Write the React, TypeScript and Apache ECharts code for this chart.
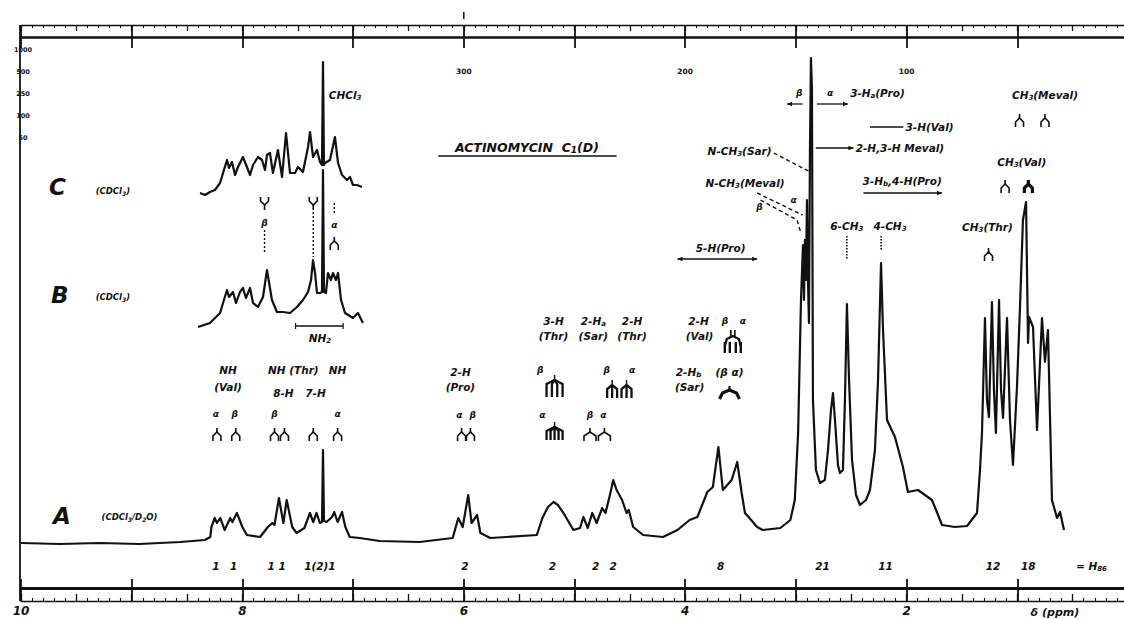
import React, { useEffect, useRef } from 'react';
import * as echarts from 'echarts';

// ---------------- data (ppm, relative intensity) ----------------
const spectrumA: [number, number][] = [
  [10.0, 0], [9.65, -1], [9.29, 0], [8.93, -1], [8.56, 1], [8.34, 3], [8.29, 6], [8.28, 16], [8.25, 25], [8.23, 20],
  [8.2, 25], [8.16, 13], [8.11, 25], [8.09, 21], [8.05, 30], [8.0, 16], [7.96, 8], [7.84, 6], [7.77, 16], [7.73, 20],
  [7.71, 18], [7.67, 45], [7.63, 20], [7.6, 43], [7.55, 16], [7.51, 10], [7.44, 15], [7.39, 30], [7.36, 21], [7.33, 30],
  [7.3, 20], [7.281, 21], [7.272, 93], [7.263, 22], [7.24, 21], [7.19, 26], [7.17, 31], [7.14, 21], [7.1, 31], [7.07, 16],
  [7.03, 6], [6.94, 5], [6.76, 2], [6.4, 1], [6.1, 5], [6.05, 25], [6.01, 16], [5.96, 48], [5.93, 20], [5.88, 28],
  [5.85, 10], [5.76, 5], [5.34, 8], [5.29, 25], [5.24, 36], [5.19, 41], [5.15, 38], [5.1, 30], [5.01, 13], [4.95, 15],
  [4.92, 26], [4.88, 15], [4.84, 30], [4.8, 20], [4.75, 35], [4.72, 30], [4.68, 48], [4.65, 63], [4.62, 53], [4.57, 43],
  [4.53, 30], [4.51, 33], [4.47, 16], [4.38, 8], [4.2, 6], [4.07, 13], [3.96, 23], [3.89, 26], [3.8, 51], [3.75, 56],
  [3.7, 96], [3.66, 53], [3.58, 63], [3.53, 81], [3.49, 50], [3.46, 30], [3.42, 25], [3.35, 16], [3.3, 13], [3.14, 15],
  [3.05, 23], [3.01, 43], [2.98, 110], [2.954, 243], [2.936, 298], [2.927, 243], [2.918, 303], [2.909, 263], [2.9, 343], [2.891, 263],
  [2.882, 220], [2.873, 393], [2.864, 485], [2.855, 453], [2.846, 143], [2.819, 73], [2.783, 60], [2.738, 63], [2.71, 93], [2.683, 133],
  [2.665, 150], [2.647, 123], [2.62, 78], [2.602, 70], [2.575, 73], [2.557, 143], [2.539, 239], [2.52, 163], [2.493, 83], [2.457, 48],
  [2.421, 38], [2.367, 43], [2.331, 53], [2.286, 93], [2.258, 163], [2.231, 280], [2.213, 213], [2.177, 123], [2.105, 106], [2.033, 76],
  [1.988, 51], [1.897, 53], [1.834, 48], [1.771, 43], [1.716, 28], [1.68, 18], [1.563, 16], [1.454, 17], [1.364, 30], [1.337, 73],
  [1.319, 110], [1.292, 225], [1.274, 143], [1.256, 126], [1.229, 241], [1.211, 153], [1.193, 110], [1.165, 243], [1.147, 153], [1.129, 125],
  [1.093, 225], [1.066, 123], [1.039, 78], [1.003, 156], [0.976, 235], [0.949, 323], [0.921, 341], [0.903, 200], [0.894, 226], [0.858, 216],
  [0.822, 113], [0.777, 225], [0.75, 181], [0.723, 213], [0.687, 43], [0.641, 25], [0.614, 31], [0.578, 13],
];

const spectrumB: [number, number][] = [
  [8.401, 3], [8.293, 7], [8.202, 17], [8.175, 27], [8.139, 40], [8.121, 33], [8.085, 38], [8.058, 27], [8.022, 38], [7.995, 42],
  [7.968, 32], [7.931, 42], [7.904, 27], [7.859, 23], [7.814, 33], [7.778, 60], [7.733, 30], [7.688, 18], [7.633, 18], [7.57, 17],
  [7.507, 23], [7.453, 30], [7.407, 38], [7.38, 50], [7.362, 70], [7.344, 57], [7.326, 37], [7.299, 37], [7.281, 38], [7.272, 160],
  [7.263, 38], [7.245, 37], [7.227, 57], [7.2, 50], [7.182, 57], [7.155, 50], [7.136, 57], [7.109, 30], [7.073, 17], [7.001, 12],
  [6.956, 17], [6.911, 7],
];

const spectrumC: [number, number][] = [
  [8.383, 2], [8.338, 0], [8.293, 3], [8.248, 5], [8.202, 12], [8.175, 22], [8.139, 35], [8.121, 27], [8.094, 33], [8.067, 20],
  [8.04, 28], [7.995, 38], [7.959, 28], [7.931, 20], [7.904, 30], [7.859, 38], [7.823, 35], [7.796, 25], [7.778, 40], [7.751, 42],
  [7.724, 22], [7.679, 45], [7.642, 18], [7.606, 62], [7.57, 22], [7.525, 22], [7.498, 28], [7.453, 23], [7.407, 48], [7.389, 63],
  [7.362, 38], [7.326, 45], [7.299, 33], [7.281, 30], [7.272, 133], [7.263, 30], [7.254, 32], [7.209, 35], [7.164, 58], [7.136, 32],
  [7.1, 20], [7.055, 15], [7.028, 18], [7.001, 10], [6.965, 10], [6.92, 8],
];

const ppmTickLabels = [10, 8, 6, 4, 2];
const hzTickPpm = [6, 4, 2];
const hzTickLabels = ['300', '200', '100'];
const intensityScaleLabels = ['1000', '500', '250', '100', '50'];
const integralLabels = ['1', '1', '1', '1', '1(2)1', '2', '2', '2', '2', '8', '21', '11', '12', '18', '= H_{86}'];
const integralPpm = [8.24, 8.08, 7.74, 7.64, 7.3, 5.99, 5.2, 4.81, 4.65, 3.68, 2.76, 2.19, 1.22, 0.9, 0.33];

// ---------------- layout / annotations ----------------
const INK = '#111';
const FONT = '"DejaVu Sans", "Liberation Sans", Arial, sans-serif';

type Align = 'left' | 'center' | 'right';
// [text, ppm, y, size, align]
const annotations: [string, number, number, number?, Align?][] = [
  ['C', 9.67, 187, 23], ['(CDCl_{3})', 9.17, 191, 8.5],
  ['B', 9.65, 295, 23], ['(CDCl_{3})', 9.17, 297, 8.5],
  ['A', 9.63, 516, 23], ['(CDCl_{3}/D_{2}O)', 9.02, 517, 8.5],
  ['CHCl_{3}', 7.22, 95, 10.5, 'left'],
  ['β', 7.8, 223, 9], ['α', 7.17, 225, 9],
  ['NH_{2}', 7.3, 338, 10.5],
  ['ACTINOMYCIN  C_{1}(D)', 5.43, 147, 12.5],
  ['NH', 8.13, 370], ['(Val)', 8.13, 387], ['NH (Thr)', 7.54, 370], ['NH', 7.14, 370],
  ['8-H', 7.63, 393], ['7-H', 7.34, 393],
  ['α', 8.24, 414, 9], ['β', 8.07, 414, 9], ['β', 7.71, 414, 9], ['α', 7.14, 414, 9],
  ['2-H', 6.03, 372], ['(Pro)', 6.03, 387],
  ['α', 6.04, 415, 9], ['β', 5.92, 415, 9],
  ['3-H', 5.19, 321], ['(Thr)', 5.19, 336], ['2-H_{a}', 4.83, 321], ['(Sar)', 4.83, 336],
  ['2-H', 4.48, 321], ['(Thr)', 4.48, 336],
  ['β', 5.31, 370, 9], ['α', 5.29, 415, 9],
  ['β', 4.71, 370, 9], ['α', 4.48, 370, 9], ['β', 4.86, 415, 9], ['α', 4.74, 415, 9],
  ['2-H', 3.88, 321], ['(Val)', 3.87, 336], ['β', 3.64, 321, 9], ['α', 3.48, 321, 9],
  ['2-H_{b}', 3.97, 372], ['(Sar)', 3.96, 387], ['(β α)', 3.6, 372],
  ['β', 2.97, 93, 9], ['α', 2.69, 93, 9], ['3-H_{a}(Pro)', 2.51, 93, 10.5, 'left'],
  ['3-H(Val)', 2.01, 127, 10.5, 'left'],
  ['2-H,3-H Meval)', 2.46, 148, 10.5, 'left'],
  ['N-CH_{3}(Sar)', 3.22, 151, 10.5, 'right'],
  ['3-H_{b},4-H(Pro)', 2.04, 181],
  ['N-CH_{3}(Meval)', 3.46, 183],
  ['α', 3.02, 200, 9], ['β', 3.33, 207, 9],
  ['5-H(Pro)', 3.68, 248],
  ['6-CH_{3}', 2.54, 226], ['4-CH_{3}', 2.15, 226],
  ['CH_{3}(Thr)', 1.27, 227],
  ['CH_{3}(Meval)', 0.75, 95],
  ['CH_{3}(Val)', 0.96, 162],
  ['δ (ppm)', 0.66, 612, 11],
];

function toRich(s: string) {
  const parts: string[] = [];
  const re = /_\{([^}]*)\}/g;
  let last = 0;
  let m: RegExpExecArray | null;
  while ((m = re.exec(s))) {
    if (m.index > last) parts.push(`{n|${s.slice(last, m.index)}}`);
    parts.push(`{s|${m[1]}}`);
    last = re.lastIndex;
  }
  if (last < s.length) parts.push(`{n|${s.slice(last)}}`);
  return parts.join('');
}

function txt(x: number, y: number, s: string, size = 10.5, align: Align = 'center', italic = true) {
  const base = { fontFamily: FONT, fontWeight: 'bold', fontStyle: italic ? 'italic' : 'normal', fill: INK };
  return {
    type: 'text', x, y, silent: true, z: 10,
    style: {
      text: toRich(s), align, textAlign: align, verticalAlign: 'middle', textVerticalAlign: 'middle',
      ...base, fontSize: size,
      rich: {
        n: { ...base, fontSize: size, lineHeight: size + 2 },
        s: { ...base, fontSize: Math.max(6, Math.round(size * 0.7)), lineHeight: Math.round(size * 0.45), verticalAlign: 'bottom' },
      },
    },
  };
}
function ln(x1: number, y1: number, x2: number, y2: number, w = 1.3, dash?: number[]) {
  return { type: 'line', silent: true, z: 10, shape: { x1, y1, x2, y2 }, style: { stroke: INK, lineWidth: w, lineDash: dash } };
}
function pl(points: number[][], w = 1.5, dash?: number[]) {
  return { type: 'polyline', silent: true, z: 10, shape: { points }, style: { stroke: INK, lineWidth: w, fill: null, lineDash: dash } };
}
function pg(points: number[][]) {
  return { type: 'polygon', silent: true, z: 10, shape: { points }, style: { fill: INK } };
}
function doublet(x: number, y: number, hw = 4, w = 1.6) {
  return [ln(x, y, x, y + 4, w), pl([[x - hw, y + 13], [x - hw, y + 8], [x, y + 4], [x + hw, y + 8], [x + hw, y + 13]], w)];
}
function fork(x: number, y: number) {
  return [pl([[x - 4, y], [x - 4, y + 4], [x, y + 8], [x + 4, y + 4], [x + 4, y]], 1.6), ln(x, y + 8, x, y + 13, 1.6)];
}
function tree(x: number, y: number, hw = 8, legs = 4, h = 18) {
  const out: any[] = [ln(x, y, x, y + 5, 1.5)];
  for (let i = 0; i < legs; i++) {
    const lx = x - hw + (2 * hw * i) / (legs - 1);
    out.push(pl([[x, y + 5], [lx, y + 9], [lx, y + h]], 2.3));
  }
  return out;
}
function arrow(x1: number, x2: number, y: number, heads: 'start' | 'end' | 'both') {
  const out: any[] = [ln(x1, y, x2, y, 1.3)];
  const head = (xt: number, dir: number) => pg([[xt, y], [xt - dir * 5, y - 2.2], [xt - dir * 5, y + 2.2]]);
  const d = Math.sign(x2 - x1);
  if (heads === 'end' || heads === 'both') out.push(head(x2, d));
  if (heads === 'start' || heads === 'both') out.push(head(x1, -d));
  return out;
}

export default function App() {
  const ref = useRef<HTMLDivElement>(null);
  useEffect(() => {
    const chart = echarts.init(ref.current!, null, { renderer: 'svg' });
    const common = { type: 'value', gridIndex: 0, min: 0, max: 10, inverse: true, splitLine: { show: false } };
    const labelFont = { color: INK, fontFamily: FONT, fontWeight: 'bold', fontStyle: 'italic' };
    const traceStyle = { color: INK, width: 2.2, join: 'round' };
    chart.setOption({
      animation: false,
      backgroundColor: '#fff',
      grid: { left: 21, right: -4, top: 40, bottom: 76, containLabel: false, outerBoundsMode: 'none' },
      xAxis: [
        {
          ...common, interval: 1, position: 'bottom', offset: 58,
          axisLine: { onZero: false, lineStyle: { color: INK, width: 1.3 } },
          axisTick: { inside: true, length: 22, lineStyle: { color: INK, width: 1.8 } },
          minorTick: { show: true, splitNumber: 10, length: 3, lineStyle: { color: INK, width: 1.1 } },
          axisLabel: { ...labelFont, fontSize: 12, margin: 4, formatter: (v: number) => (ppmTickLabels.includes(v) ? String(v) : '') },
        },
        { ...common, interval: 1, position: 'bottom', offset: 45, axisLine: { onZero: false, lineStyle: { color: INK, width: 2.8 } }, axisTick: { show: false }, axisLabel: { show: false } },
        { ...common, interval: 0.5, position: 'bottom', offset: 58, axisLine: { show: false, onZero: false }, axisTick: { inside: true, length: 7, lineStyle: { color: INK, width: 1.3 } }, axisLabel: { show: false } },
        {
          ...common, interval: 1, position: 'top', offset: 15,
          axisLine: { onZero: false, lineStyle: { color: INK, width: 1.3 } },
          axisTick: { inside: true, length: 23, lineStyle: { color: INK, width: 1.8 } },
          minorTick: { show: true, splitNumber: 10, length: 3, lineStyle: { color: INK, width: 1.1 } },
          axisLabel: { show: false },
        },
        { ...common, interval: 0.5, position: 'top', offset: 15, axisLine: { show: false, onZero: false }, axisTick: { inside: true, length: 6, lineStyle: { color: INK, width: 1.3 } }, axisLabel: { show: false } },
        { ...common, interval: 1, position: 'top', offset: 3, axisLine: { onZero: false, lineStyle: { color: INK, width: 2.6 } }, axisTick: { show: false }, axisLabel: { show: false } },
        {
          ...common, interval: 1, position: 'top', offset: -38, axisLine: { show: false, onZero: false }, axisTick: { show: false },
          axisLabel: { color: INK, fontFamily: FONT, fontWeight: 'bold', fontSize: 7.5, margin: 3, formatter: (v: number) => { const i = hzTickPpm.indexOf(v); return i >= 0 ? hzTickLabels[i] : ''; } },
        },
      ],
      yAxis: [
        { type: 'value', gridIndex: 0, min: 0, max: 503, show: false },
        { type: 'value', gridIndex: 0, min: -213, max: 290, show: false },
        { type: 'value', gridIndex: 0, min: -348, max: 155, show: false },
      ],
      series: [
        { type: 'line', name: 'A', xAxisIndex: 0, yAxisIndex: 0, data: spectrumA, symbol: 'none', clip: false, lineStyle: traceStyle },
        { type: 'line', name: 'B', xAxisIndex: 0, yAxisIndex: 1, data: spectrumB, symbol: 'none', clip: false, lineStyle: traceStyle },
        { type: 'line', name: 'C', xAxisIndex: 0, yAxisIndex: 2, data: spectrumC, symbol: 'none', clip: false, lineStyle: traceStyle },
      ],
    });

    const X = (p: number) => chart.convertToPixel({ xAxisIndex: 0 }, p) as number;
    const els: any[] = [];
    els.push(ln(X(10) - 1, 25, X(10) - 1, 601, 1.8));
    els.push(ln(X(6), 12, X(6), 19, 1.5));
    intensityScaleLabels.forEach((t, i) => els.push(txt(X(10) + 2, 50 + i * 22, t, 6.5, 'center', false)));
    annotations.forEach(([t, p, y, size, align]) => els.push(txt(X(p), y, t, size ?? 10.5, align ?? 'center')));
    integralLabels.forEach((t, i) => els.push(txt(X(integralPpm[i]), 566, t, 10.5)));
    els.push(ln(X(6.23), 156, X(4.62), 156, 1.5));
    // B inset marks
    els.push(...fork(X(7.8), 197), ln(X(7.8), 230, X(7.8), 252, 1.4, [2, 2]));
    els.push(...fork(X(7.36), 197), ln(X(7.36), 212, X(7.36), 257, 1.4, [2, 2]));
    els.push(ln(X(7.17), 203, X(7.17), 215, 1.4, [2, 2]), ...doublet(X(7.17), 237));
    els.push(ln(X(7.52), 326, X(7.09), 326, 1.4), ln(X(7.52), 323, X(7.52), 329, 1.2), ln(X(7.09), 323, X(7.09), 329, 1.2));
    // NH row of doublets
    [8.23, 8.06, 7.71, 7.62, 7.36, 7.14].forEach((p) => els.push(...doublet(X(p), 428)));
    [6.02, 5.94].forEach((p) => els.push(...doublet(X(p), 428)));
    // multiplets
    els.push(...tree(X(5.18), 422, 8, 5, 18));
    els.push(...tree(X(5.18), 375, 8, 4, 22));
    els.push(...doublet(X(4.86), 428, 6), ...doublet(X(4.73), 428, 6));
    els.push(...tree(X(4.66), 380, 5, 3, 18), ...tree(X(4.53), 380, 5, 3, 18));
    {
      const x = X(3.6);
      els.push(ln(x, 386, x, 391, 2.2), pl([[x - 10, 399], [x - 7, 393], [x, 390], [x + 7, 393], [x + 10, 399]], 3.2));
    }
    {
      const x = X(3.57);
      els.push(ln(x - 2, 330, x - 2, 337, 1.7), ln(x + 2, 330, x + 2, 337, 1.7));
      els.push(pl([[x - 8, 346], [x - 6, 339], [x, 336], [x + 6, 339], [x + 8, 346]], 2.4));
      [-8, -3, 3, 8].forEach((dx) => els.push(ln(x + dx, 342, x + dx, 353, 2.4)));
    }
    // right-hand bars / arrows
    els.push(...arrow(X(2.94), X(3.08), 104, 'end'));
    els.push(...arrow(X(2.81), X(2.53), 104, 'end'));
    els.push(ln(X(2.33), 127, X(2.03), 127, 1.4));
    els.push(...arrow(X(2.82), X(2.48), 148, 'end'));
    els.push(...arrow(X(2.39), X(1.68), 193, 'end'));
    els.push(...arrow(X(4.07), X(3.35), 259, 'both'));
    els.push(ln(X(3.2), 153, X(2.87), 172, 1.4, [4, 3]));
    els.push(ln(X(3.35), 193, X(2.94), 215, 1.4, [4, 3]));
    els.push(pl([[X(3.32), 200], [X(2.99), 220], [X(2.96), 231]], 1.4, [4, 3]));
    els.push(ln(X(2.54), 236, X(2.54), 260, 1.6, [1.5, 1.5]));
    els.push(ln(X(2.23), 236, X(2.23), 250, 1.6, [1.5, 1.5]));
    els.push(...doublet(X(1.26), 248));
    els.push(...doublet(X(0.98), 114), ...doublet(X(0.75), 114));
    els.push(...doublet(X(1.11), 180), ...doublet(X(0.9), 180, 4, 3.2));

    chart.setOption({ graphic: els });
    return () => chart.dispose();
  }, []);
  return <div ref={ref} style={{ position: 'absolute', left: 0, top: 0, width: 1124, height: 619, background: '#fff' }} />;
}
